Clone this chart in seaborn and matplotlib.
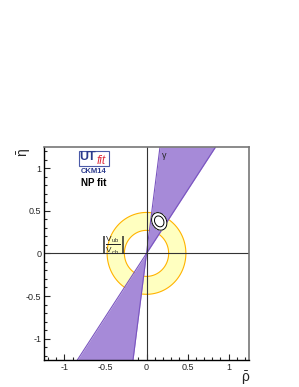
import numpy as np
import matplotlib
matplotlib.use("Agg")
import matplotlib.pyplot as plt
import seaborn as sns
from matplotlib.patches import Wedge, Rectangle
from matplotlib.ticker import MultipleLocator

# gamma constraint: angular band (degrees) through the origin
gamma_lo = 56.0
gamma_hi = 82.5

# |Vub/Vcb| ring around the origin
ring_r_in = 0.27
ring_r_out = 0.48

# fitted apex of the triangle and its spread
apex_rho = 0.155
apex_eta = 0.375
sig_rho = 0.038
sig_eta = 0.042
corr = -0.2

x_ticks = [-1, -0.5, 0, 0.5, 1]
y_ticks = [-1, -0.5, 0, 0.5, 1]
lim = 1.25

sns.set_style("white")
plt.rcParams['font.family'] = ['Liberation Sans', 'DejaVu Sans']
plt.rcParams['mathtext.default'] = 'regular'

fig = plt.figure(figsize=(2.99, 3.87), dpi=100)
ax = fig.add_axes([0.147, 0.0698, 0.686, 0.551])

# |Vub/Vcb| annulus
ax.add_patch(Wedge((0, 0), ring_r_out, 0, 360, width=ring_r_out - ring_r_in,
                   facecolor='#ffffc0', edgecolor='none', zorder=1))
th = np.linspace(0, 2 * np.pi, 200)
for r in [ring_r_in, ring_r_out]:
    sns.lineplot(x=r * np.cos(th), y=r * np.sin(th), sort=False, estimator=None,
                 errorbar=None, color='#ffb300', lw=0.8, ax=ax, zorder=2)

# gamma band
yy = np.array([-lim, lim])
x_lo = yy / np.tan(np.radians(gamma_hi))
x_hi = yy / np.tan(np.radians(gamma_lo))
ax.fill_betweenx(yy, x_lo, x_hi, color='#a68ad8', lw=0, zorder=3)
for xs in [x_lo, x_hi]:
    sns.lineplot(x=xs, y=yy, sort=False, estimator=None, errorbar=None,
                 color='#7a55c0', lw=0.8, ax=ax, zorder=4)

# fit contours
rr, ee = np.meshgrid(np.linspace(-0.2, 0.5, 300), np.linspace(0.0, 0.8, 300))
dr = (rr - apex_rho) / sig_rho
de = (ee - apex_eta) / sig_eta
chi2 = (dr ** 2 + de ** 2 - 2 * corr * dr * de) / (1 - corr ** 2)
ax.contourf(rr, ee, chi2, levels=[0, 5.99], colors=['white'], zorder=5)
ax.contour(rr, ee, chi2, levels=[2.3, 5.99], colors='k', linewidths=0.7, zorder=6)

ax.axhline(0, color='#333333', lw=0.8, zorder=7)
ax.axvline(0, color='#333333', lw=0.8, zorder=7)

ax.set_xlim(-lim, lim)
ax.set_ylim(-lim, lim)
ax.set_xticks(x_ticks)
ax.set_yticks(y_ticks)
ax.set_xticklabels([f'{v:g}' for v in x_ticks])
ax.set_yticklabels([f'{v:g}' for v in y_ticks])
ax.xaxis.set_minor_locator(MultipleLocator(0.1))
ax.yaxis.set_minor_locator(MultipleLocator(0.1))
ax.tick_params(which='both', direction='in', top=False, right=False,
               left=True, bottom=True, labelsize=6.5, width=0.8, pad=2)
ax.tick_params(which='major', length=4)
ax.tick_params(which='minor', length=2)
for s in ['left', 'bottom']:
    ax.spines[s].set_color('black')
    ax.spines[s].set_linewidth(1.0)
for s in ['top', 'right']:
    ax.spines[s].set_color('#777777')
    ax.spines[s].set_linewidth(1.2)
for s in ax.spines.values():
    s.set_zorder(8)

# labels and annotations
fig.text(0.082, 0.607, r'$\bar{\eta}$', fontsize=10, rotation=90, ha='center', va='center')
fig.text(0.82, 0.022, r'$\bar{\rho}$', fontsize=10, ha='center', va='center')
ax.text(0.21, 1.13, r'$\gamma$', fontsize=6.5, ha='center', va='center', zorder=9)
ax.text(-0.41, 0.09, r'$\left|\frac{V_{ub}}{V_{cb}}\right|$', fontsize=8.5,
        ha='center', va='center', zorder=9)

ax.add_patch(Rectangle((-0.826, 1.019), 0.363, 0.176, facecolor='white',
                       edgecolor='#4a5aa8', lw=0.8, zorder=9))
ax.text(-0.715, 1.13, 'UT', fontsize=9, fontweight='bold', color='#2b3a8c',
        ha='center', va='center', zorder=10)
ax.text(-0.555, 1.08, 'fit', fontsize=8.5, fontstyle='italic', color='#e03040',
        ha='center', va='center', zorder=10)
ax.text(-0.645, 0.962, 'CKM14', fontsize=5.5, fontweight='bold', color='#2b3a8c',
        ha='center', va='center', zorder=10)
ax.text(-0.645, 0.83, 'NP fit', fontsize=7, fontweight='bold', color='black',
        ha='center', va='center', zorder=10)

fig.savefig('out.png', dpi=100)
